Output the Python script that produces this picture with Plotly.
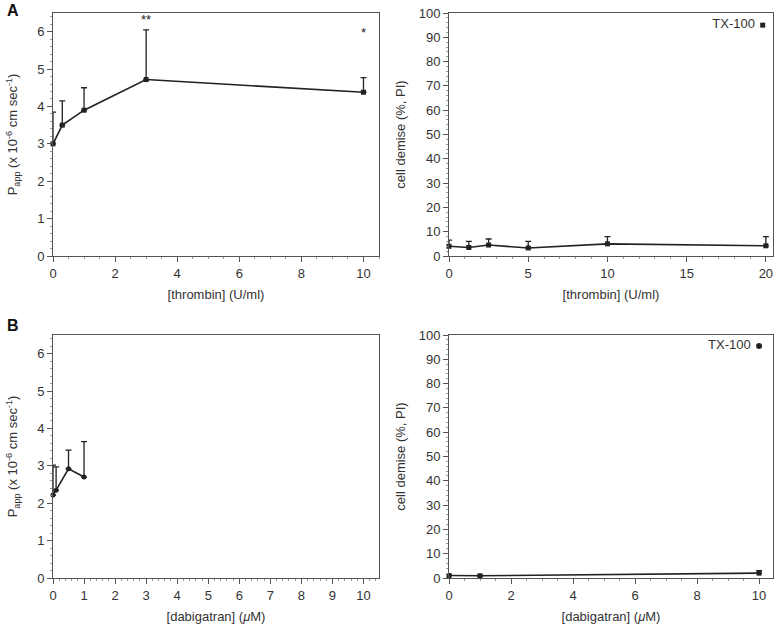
import plotly.graph_objects as go

# Panel A left: Papp vs thrombin
a1_x = [0, 0.3, 1, 3, 10]
a1_y = [3.0, 3.5, 3.9, 4.72, 4.38]
a1_err = [0.85, 0.65, 0.6, 1.33, 0.39]
a1_stars_x = [3, 10]
a1_stars_y = [6.3, 5.95]
a1_stars = ["**", "*"]

# Panel A right: cell demise vs thrombin
a2_x = [0, 1.25, 2.5, 5, 10, 20]
a2_y = [4.0, 3.5, 4.5, 3.3, 5.0, 4.2]
a2_err = [2.5, 2.5, 2.5, 2.7, 3.0, 3.8]
a2_tx_x = [19.8]
a2_tx_y = [95]

# Panel B left: Papp vs dabigatran
b1_x = [0, 0.1, 0.5, 1]
b1_y = [2.22, 2.35, 2.92, 2.7]
b1_err = [0.8, 0.62, 0.5, 0.95]

# Panel B right: cell demise vs dabigatran
b2_x = [0, 1, 10]
b2_y = [1.0, 0.9, 2.0]
b2_err = [0.3, 0.3, 1.0]
b2_tx_x = [10]
b2_tx_y = [95.5]

FONT = "Liberation Sans, Arial, sans-serif"
TXT = "#333333"
LINE = "#222222"
AX = "#555555"

fig = go.Figure()

def series(x, y, err, xa, ya, symbol):
    fig.add_trace(go.Scatter(
        x=x, y=y, xaxis=xa, yaxis=ya, mode="lines+markers",
        line=dict(color=LINE, width=1.6),
        marker=dict(symbol=symbol, size=5, color=LINE),
        error_y=dict(type="data", symmetric=False, array=err,
                     arrayminus=[0] * len(err), color=LINE,
                     thickness=1.3, width=3),
        showlegend=False, cliponaxis=False))

series(a1_x, a1_y, a1_err, "x", "y", "square")
series(a2_x, a2_y, a2_err, "x2", "y2", "square")
series(b1_x, b1_y, b1_err, "x3", "y3", "circle")
series(b2_x, b2_y, b2_err, "x4", "y4", "square")

fig.add_trace(go.Scatter(x=a1_stars_x, y=a1_stars_y, xaxis="x", yaxis="y",
                         mode="text", text=a1_stars,
                         textfont=dict(family=FONT, size=13, color=LINE),
                         showlegend=False, cliponaxis=False))

fig.add_trace(go.Scatter(x=a2_tx_x, y=a2_tx_y, xaxis="x2", yaxis="y2",
                         mode="markers+text", text=["TX-100 "],
                         textposition="middle left",
                         marker=dict(symbol="square", size=5, color=LINE),
                         textfont=dict(family=FONT, size=13, color=TXT),
                         showlegend=False, cliponaxis=False))
fig.add_trace(go.Scatter(x=b2_tx_x, y=b2_tx_y, xaxis="x4", yaxis="y4",
                         mode="markers+text", text=["TX-100 "],
                         textposition="middle left",
                         marker=dict(symbol="circle", size=6, color=LINE),
                         textfont=dict(family=FONT, size=13, color=TXT),
                         showlegend=False, cliponaxis=False))

xl = [53 / 776, 379 / 776]
xr = [449 / 776, 773 / 776]
yt = [1 - 256 / 625, 1 - 13 / 625]
yb = [1 - 578 / 625, 1 - 335 / 625]

def axis(domain, anchor, rng, dtick, title, minor_dtick, standoff):
    return dict(domain=domain, anchor=anchor, range=rng, dtick=dtick, tick0=0,
                showline=True, linecolor=AX, linewidth=1, mirror=True,
                ticks="outside", ticklen=5, tickcolor=AX, tickwidth=1,
                minor=dict(dtick=minor_dtick, ticks="outside", ticklen=2,
                           tickcolor="#999999"),
                showgrid=False, zeroline=False,
                tickfont=dict(family=FONT, size=13, color=TXT),
                title=dict(text=title, font=dict(family=FONT, size=13, color=TXT),
                           standoff=standoff),
                automargin=False)

ytitle_p = "P<sub>app</sub> (x 10<sup>-6</sup> cm sec<sup>-1</sup>)"
fig.update_layout(
    width=776, height=625, margin=dict(l=0, r=0, t=0, b=0),
    paper_bgcolor="white", plot_bgcolor="white",
    font=dict(family=FONT, color=TXT),
    xaxis=axis(xl, "y", [0, 10.5], 2, "[thrombin] (U/ml)", 0.5, 10),
    yaxis=axis(yt, "x", [0, 6.5], 1, ytitle_p, 0.2, 16),
    xaxis2=axis(xr, "y2", [0, 20.45], 5, "[thrombin] (U/ml)", 1, 10),
    yaxis2=axis(yt, "x2", [0, 100], 10, "cell demise (%, PI)", 2, 10),
    xaxis3=axis(xl, "y3", [0, 10.5], 1, "[dabigatran] (<i>μ</i>M)", 0.2, 10),
    yaxis3=axis(yb, "x3", [0, 6.5], 1, ytitle_p, 0.2, 16),
    xaxis4=axis(xr, "y4", [0, 10.45], 2, "[dabigatran] (<i>μ</i>M)", 0.5, 10),
    yaxis4=axis(yb, "x4", [0, 100], 10, "cell demise (%, PI)", 2, 10),
    annotations=[
        dict(text="<b>A</b>", x=5 / 776, y=1 - 11 / 625, xref="paper", yref="paper",
             xanchor="left", yanchor="middle", showarrow=False,
             font=dict(family=FONT, size=16, color="#111111")),
        dict(text="<b>B</b>", x=5 / 776, y=1 - 325 / 625, xref="paper", yref="paper",
             xanchor="left", yanchor="middle", showarrow=False,
             font=dict(family=FONT, size=16, color="#111111")),
    ],
)

fig.write_html("out.html", config={"displayModeBar": False},
               post_script="document.body.style.margin='0';document.body.style.overflow='hidden';")
